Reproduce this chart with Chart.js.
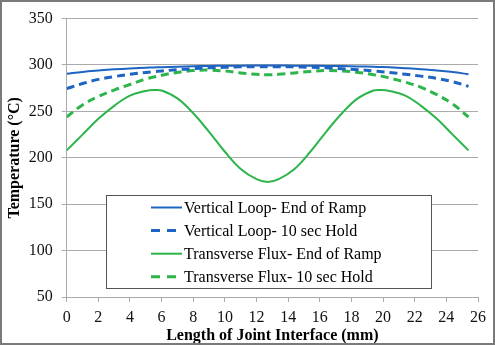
<!DOCTYPE html>
<html>
<head>
<meta charset="utf-8">
<script src="https://cdn.jsdelivr.net/npm/chart.js@4/dist/chart.umd.min.js"></script>
<style>
  html, body { margin: 0; padding: 0; background: #fff; }
  canvas { display: block; }
</style>
</head>
<body>
<canvas id="tempChart" width="495" height="345"></canvas>
<script>
// positions along the joint (mm)
const positions = [0, 1, 2, 3, 4, 5, 5.5, 6, 7, 8, 9, 10, 11, 12, 12.7, 13.4, 14.4, 15.4, 16.4, 17.4, 18.4, 19.4, 19.9, 20.4, 21.4, 22.4, 23.4, 24.4, 25.4];

const vlRamp = [290.5, 292.5, 294, 295.3, 296.3, 297, 297.4, 297.7, 298.2, 298.6, 299, 299.2, 299.3, 299.4, 299.4, 299.4, 299.3, 299.2, 299, 298.8, 298.5, 298, 297.8, 297.5, 296.6, 295.5, 294, 292.5, 290];
const vlHold = [274.5, 280, 284.5, 287.5, 290, 292, 292.8, 293.5, 295, 296, 297, 297.5, 298, 298, 298, 298, 298, 297.5, 297, 296, 295, 293.5, 292.8, 292, 290, 288, 285.5, 282, 277];
const tfRamp = [208, 225, 242, 256, 267, 272, 273, 272.5, 264, 248, 228, 206.5, 188, 177, 174, 177, 188, 206.5, 228, 248, 264, 272.5, 273, 272, 267, 256, 242, 225, 208];
const tfHold = [244, 257, 266, 273, 279, 285, 287, 289, 292, 294, 294.5, 293.5, 291.5, 290, 289.5, 290, 291.5, 293, 294, 293.5, 292, 289.5, 288, 286, 281.5, 276, 268, 258, 244];

const seriesLabels = [
  'Vertical Loop- End of Ramp',
  'Vertical Loop- 10 sec Hold',
  'Transverse Flux- End of Ramp',
  'Transverse Flux- 10 sec Hold',
];

const blue = '#1e64c2';
const green = '#2db54c';
const gridGray = '#ababab';
const serif = "'Liberation Serif', 'Times New Roman', serif";

function toPoints(values) {
  return positions.map((x, i) => ({ x, y: values[i] }));
}

function makeSet(label, values, color, dashed) {
  return {
    label,
    data: toPoints(values),
    borderColor: color,
    backgroundColor: color,
    borderWidth: dashed ? 3 : 2,
    borderDash: dashed ? [8, 5] : [],
    pointRadius: 0,
    fill: false,
    tension: 0.4,
  };
}

// legend box drawn inside the plot, like the original
const boxLegend = {
  id: 'boxLegend',
  afterDraw(chart) {
    const { ctx } = chart;
    const left = 106.5;
    const top = 195.5;
    const w = 325;
    const h = 93;
    ctx.save();
    ctx.fillStyle = '#fff';
    ctx.fillRect(left, top, w, h);
    ctx.strokeStyle = '#555';
    ctx.lineWidth = 1;
    ctx.strokeRect(left, top, w, h);
    ctx.font = `16px ${serif}`;
    ctx.textBaseline = 'middle';
    ctx.fillStyle = '#000';
    chart.data.datasets.forEach((ds, i) => {
      const y = 207.5 + i * 23.1;
      ctx.beginPath();
      ctx.strokeStyle = ds.borderColor;
      ctx.lineWidth = ds.borderWidth;
      ctx.setLineDash(ds.borderDash.length ? [9, 7] : []);
      ctx.moveTo(151, y);
      ctx.lineTo(182, y);
      ctx.stroke();
      ctx.setLineDash([]);
      ctx.fillText(ds.label, 184, y + 1);
    });
    ctx.restore();
  },
};

// grey frame round the whole picture
const frame = {
  id: 'frame',
  afterDraw(chart) {
    const { ctx } = chart;
    ctx.save();
    ctx.strokeStyle = '#7a7a7a';
    ctx.lineWidth = 2;
    ctx.strokeRect(1, 1, 493, 343);
    ctx.restore();
  },
};

const ctx = document.getElementById('tempChart').getContext('2d');

new Chart(ctx, {
  type: 'line',
  data: {
    datasets: [
      makeSet(seriesLabels[0], vlRamp, blue, false),
      makeSet(seriesLabels[1], vlHold, blue, true),
      makeSet(seriesLabels[2], tfRamp, green, false),
      makeSet(seriesLabels[3], tfHold, green, true),
    ],
  },
  options: {
    responsive: false,
    devicePixelRatio: 1,
    animation: false,
    layout: {
      padding: { left: 0, top: 17, right: 17, bottom: 0 },
    },
    plugins: {
      legend: { display: false },
      tooltip: { enabled: false },
    },
    scales: {
      x: {
        type: 'linear',
        min: 0,
        max: 26,
        afterFit(scale) { scale.height = 48; },
        ticks: {
          stepSize: 2,
          maxRotation: 0,
          padding: 6,
          color: '#111',
          font: { family: serif, size: 16 },
        },
        grid: {
          drawOnChartArea: false,
          drawTicks: true,
          tickLength: 5,
          color: gridGray,
        },
        border: { color: gridGray, width: 1 },
        title: {
          display: true,
          text: 'Length of Joint Interface (mm)',
          color: '#000',
          font: { family: serif, size: 16, weight: 'bold' },
          padding: { top: 0, bottom: 0 },
        },
      },
      y: {
        min: 50,
        max: 350,
        afterFit(scale) { scale.width = 66.7; },
        ticks: {
          stepSize: 50,
          padding: 9,
          color: '#111',
          font: { family: serif, size: 16 },
        },
        grid: {
          color: gridGray,
          lineWidth: 1,
          tickLength: 5,
        },
        border: { color: gridGray, width: 1 },
        title: {
          display: true,
          text: 'Temperature (°C)',
          color: '#000',
          font: { family: serif, size: 16, weight: 'bold' },
          padding: { top: 5, bottom: 0 },
        },
      },
    },
  },
  plugins: [boxLegend, frame],
});
</script>
</body>
</html>
